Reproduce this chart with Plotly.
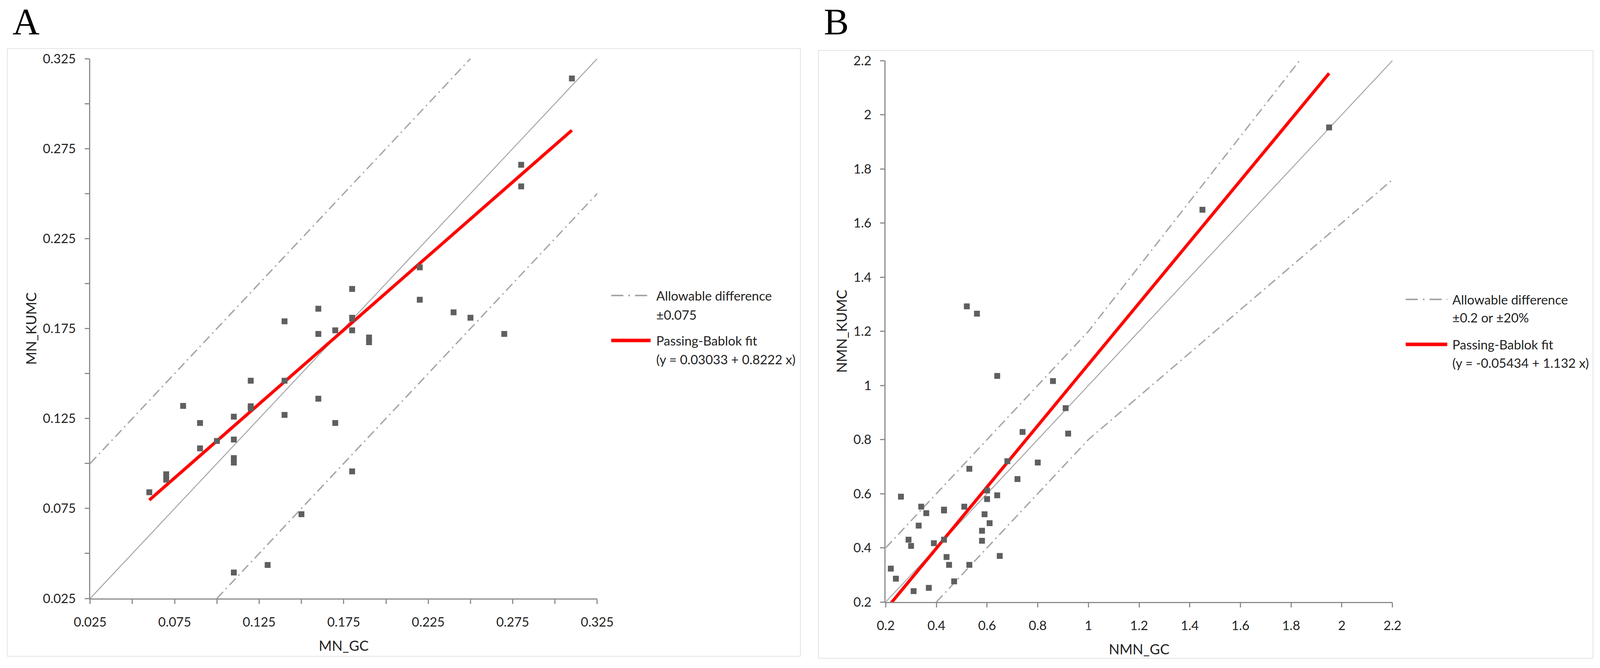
import numpy as np
import plotly.graph_objects as go

# reference is laid out on a 4348 x 1709 grid; the page itself is 4096 px wide
REF_W, REF_H = 4348, 1709
FIG_W, FIG_H = 4096, 1709

# Panel A - MN, GC vs KUMC
mn_gc = [0.06, 0.07, 0.07, 0.08, 0.09, 0.09, 0.10, 0.11, 0.11, 0.11,
         0.11, 0.11, 0.12, 0.12, 0.12, 0.13, 0.14, 0.14, 0.14, 0.15,
         0.16, 0.16, 0.16, 0.17, 0.17, 0.18, 0.18, 0.18, 0.18, 0.18,
         0.19, 0.19, 0.22, 0.22, 0.24, 0.25, 0.27, 0.28, 0.28, 0.31]
mn_kumc = [0.084, 0.094, 0.091, 0.132, 0.1225, 0.1084, 0.1125, 0.126, 0.1133, 0.103,
           0.1005, 0.0394, 0.146, 0.1318, 0.1307, 0.0436, 0.179, 0.146, 0.127, 0.0718,
           0.186, 0.172, 0.136, 0.174, 0.1225, 0.197, 0.181, 0.1805, 0.174, 0.0956,
           0.170, 0.1674, 0.209, 0.191, 0.184, 0.181, 0.172, 0.266, 0.254, 0.314]
mn_fit = (0.03033, 0.8222)
mn_diff = 0.075
mn_range = [0.025, 0.325]

# Panel B - NMN, GC vs KUMC
nmn_gc = [0.22, 0.24, 0.26, 0.29, 0.30, 0.31, 0.33, 0.34, 0.36, 0.37,
          0.39, 0.43, 0.43, 0.43, 0.44, 0.45, 0.47, 0.51, 0.52, 0.53,
          0.53, 0.56, 0.58, 0.58, 0.59, 0.60, 0.60, 0.61, 0.64, 0.64,
          0.65, 0.68, 0.72, 0.74, 0.80, 0.86, 0.91, 0.92, 1.45, 1.95]
nmn_kumc = [0.323, 0.286, 0.589, 0.43, 0.407, 0.24, 0.482, 0.552, 0.528, 0.252,
            0.417, 0.43, 0.538, 0.541, 0.366, 0.337, 0.276, 0.552, 1.292, 0.692,
            0.337, 1.265, 0.463, 0.426, 0.524, 0.612, 0.58, 0.491, 0.594, 1.035,
            0.37, 0.72, 0.654, 0.828, 0.715, 1.016, 0.916, 0.822, 1.649, 1.953]
nmn_fit = (-0.05434, 1.132)
nmn_diff_abs = 0.2
nmn_diff_rel = 0.20
nmn_range = [0.2, 2.2]

AX = "#8c8c8c"
LINE = "#a6a6a6"
DOT = "#5f5f5f"
TXT = "#222222"
FONT = "Lato, Carlito, sans-serif"
DASH = "23px,10px,4px,10px"


def px(x):
    return x / REF_W


def py(y):
    return 1 - y / REF_H


fig = go.Figure()


def add_panel(gc, kumc, fit, upper, lower, rng, xa, ya):
    lo, hi = rng
    fig.add_trace(go.Scatter(x=[lo, hi], y=[lo, hi], mode="lines",
                             line=dict(color=LINE, width=2.5), xaxis=xa, yaxis=ya))
    for ux, uy in (upper, lower):
        fig.add_trace(go.Scatter(x=ux, y=uy, mode="lines",
                                 line=dict(color=LINE, width=3.5, dash=DASH),
                                 xaxis=xa, yaxis=ya))
    fx = np.array([min(gc), max(gc)])
    fig.add_trace(go.Scatter(x=fx, y=fit[0] + fit[1] * fx, mode="lines",
                             line=dict(color="#ff0000", width=8), xaxis=xa, yaxis=ya))
    fig.add_trace(go.Scatter(x=gc, y=kumc, mode="markers",
                             marker=dict(symbol="square", size=15, color=DOT),
                             xaxis=xa, yaxis=ya))


# A: constant +-0.075 band
lo, hi = mn_range
up_a = ([lo, hi - mn_diff], [lo + mn_diff, hi])
dn_a = ([lo + mn_diff, hi], [lo, hi - mn_diff])
add_panel(mn_gc, mn_kumc, mn_fit, up_a, dn_a, mn_range, "x", "y")

# B: +-0.2 below 1, +-20% above
lo, hi = nmn_range
brk = nmn_diff_abs / nmn_diff_rel
ux = np.array([lo, brk, hi / (1 + nmn_diff_rel)])
lx = np.array([lo + nmn_diff_abs, brk, hi])
up_b = (ux, np.maximum(ux + nmn_diff_abs, ux * (1 + nmn_diff_rel)))
dn_b = (lx, np.minimum(lx - nmn_diff_abs, lx * (1 - nmn_diff_rel)))
add_panel(nmn_gc, nmn_kumc, nmn_fit, up_b, dn_b, nmn_range, "x2", "y2")

axis_style = dict(showline=True, linecolor=AX, linewidth=3, ticks="outside", ticklen=11,
                  tickwidth=3, tickcolor=AX, showgrid=False, zeroline=False,
                  automargin=False,
                  tickfont=dict(family=FONT, size=33, color=TXT))
title_font = dict(family=FONT, size=36, color=TXT)
minor_a = dict(tick0=0.025, dtick=0.025, ticks="outside", ticklen=11,
               tickwidth=3, tickcolor=AX)

fig.update_layout(
    template="none",
    width=FIG_W, height=FIG_H, showlegend=False,
    paper_bgcolor="white", plot_bgcolor="white",
    margin=dict(l=0, r=0, t=0, b=0),
    xaxis=dict(domain=[px(245), px(1623)], range=mn_range, anchor="y",
               tick0=0.025, dtick=0.05, tickformat=".3f", minor=minor_a,
               ticklabelstandoff=18,
               title=dict(text="MN_GC", font=title_font, standoff=32), **axis_style),
    yaxis=dict(domain=[py(1531), py(150)], range=mn_range, anchor="x",
               tick0=0.025, dtick=0.05, tickformat=".3f", minor=minor_a,
               ticklabelstandoff=16,
               title=dict(text="MN_KUMC", font=title_font, standoff=6), **axis_style),
    xaxis2=dict(domain=[px(2407), px(3784)], range=nmn_range, anchor="y2",
                tick0=0.2, dtick=0.2, ticklabelstandoff=18,
                title=dict(text="NMN_GC", font=title_font, standoff=32), **axis_style),
    yaxis2=dict(domain=[py(1540), py(155)], range=nmn_range, anchor="x2",
                tick0=0.2, dtick=0.2, ticklabelstandoff=16,
                title=dict(text="NMN_KUMC", font=title_font, standoff=6), **axis_style),
)

# chart area frames
for x0, y0, x1, y1 in [(20, 124, 2175, 1679), (2224, 129, 4329, 1684)]:
    fig.add_shape(type="rect", xref="paper", yref="paper",
                  x0=px(x0), x1=px(x1), y0=py(y1), y1=py(y0),
                  line=dict(color="#e3e3e3", width=2), layer="below")

# panel letters
for letter, x in [("A", 32), ("B", 2237)]:
    fig.add_annotation(text=letter, xref="paper", yref="paper", x=px(x), y=1,
                       xanchor="left", yanchor="top", showarrow=False,
                       font=dict(family="Liberation Serif", size=96, color="black"))

# legends
legends = [
    (1661, 1768, 1781, [756, 805, 871, 919],
     ["Allowable difference", "\u00b10.075", "Passing-Bablok fit", "(y = 0.03033 + 0.8222 x)"]),
    (3820, 3933, 3945, [766, 812, 881, 928],
     ["Allowable difference", "\u00b10.2 or \u00b120%", "Passing-Bablok fit", "(y = -0.05434 + 1.132 x)"]),
]
for s0, s1, tx, rows, texts in legends:
    fig.add_shape(type="line", xref="paper", yref="paper", x0=px(s0), x1=px(s1),
                  y0=py(rows[0]), y1=py(rows[0]),
                  line=dict(color=LINE, width=4, dash="31px,13px,4px,13px"))
    fig.add_shape(type="line", xref="paper", yref="paper", x0=px(s0), x1=px(s1),
                  y0=py(rows[2]), y1=py(rows[2]), line=dict(color="#ff0000", width=9))
    for row, text in zip(rows, texts):
        fig.add_annotation(text=text, xref="paper", yref="paper", x=px(tx), y=py(row),
                           xanchor="left", yanchor="middle", showarrow=False,
                           font=dict(family=FONT, size=33, color=TXT))

# drop the default page margin so the figure sits at the window corner
fig.write_html("out.html", config={"displayModeBar": False},
               post_script="document.body.style.margin = '0';")
